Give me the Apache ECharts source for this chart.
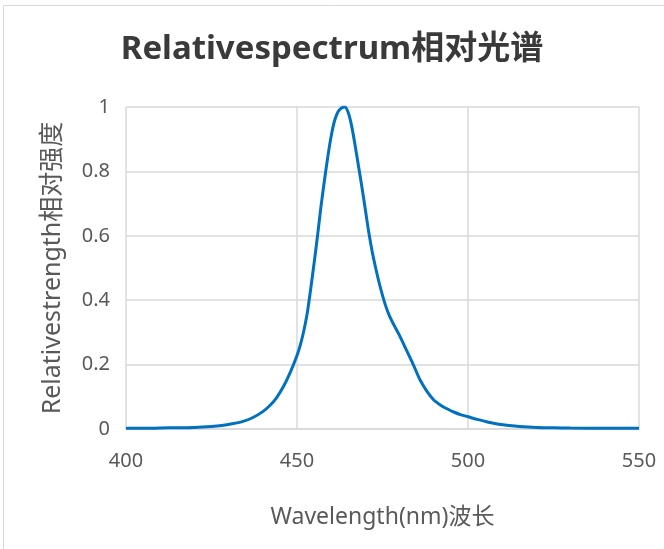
<!DOCTYPE html>
<html><head><meta charset="utf-8">
<script src="https://cdn.jsdelivr.net/npm/echarts@6/dist/echarts.min.js"></script>
<style>html,body{margin:0;padding:0;background:#fff}#c{width:664px;height:549px}</style>
</head><body><div id="c"></div>
<script>
const titleText = 'Relativespectrum相对光谱';
const xName = 'Wavelength(nm)波长';
const yName = 'Relativestrength相对强度';
const wavelengths = [400,405,410,415,420,425,428,431,434,437,440,442,444,446,448,450,451,452,453,454,455,456,457,458,459,460,461,462,463,464,465,466,467,468,469,470,471,472,473,474,475,476,477,478,479,480,482,484,486,488,490,492,494,496,498,500,503,506,509,512,515,520,525,530,540,550];
const intensity = [0.002,0.002,0.003,0.004,0.005,0.008,0.011,0.016,0.023,0.035,0.054,0.072,0.097,0.131,0.175,0.228,0.262,0.305,0.36,0.435,0.515,0.6,0.69,0.77,0.845,0.91,0.958,0.985,0.997,1.0,0.982,0.94,0.88,0.815,0.75,0.68,0.61,0.55,0.5,0.455,0.415,0.38,0.352,0.33,0.31,0.29,0.245,0.2,0.152,0.117,0.09,0.074,0.062,0.052,0.044,0.038,0.029,0.021,0.015,0.011,0.008,0.005,0.004,0.003,0.002,0.002];
const xTicks = {min:400, max:550, step:50};
const yTicks = {min:0, max:1, step:0.2};

const chart = echarts.init(document.getElementById('c'), null, {renderer:'canvas'});
const FONT = '"Noto Sans","Noto Sans CJK SC",sans-serif';
chart.setOption({
  animation:false,
  backgroundColor:'#fff',
  graphic:[{type:'rect',shape:{x:3.5,y:5.5,width:670,height:560},style:{fill:'none',stroke:'#d9d9d9',lineWidth:1},silent:true}],
  title:{text:titleText,left:'center',top:28,textStyle:{fontFamily:FONT,fontSize:33,fontWeight:'bold',color:'#3a3a3a'}},
  grid:{left:126,right:25,top:107,bottom:120},
  xAxis:{type:'value',min:xTicks.min,max:xTicks.max,interval:xTicks.step,
    name:xName,nameLocation:'middle',nameGap:77,
    nameTextStyle:{fontFamily:FONT,fontSize:23,color:'#595959'},
    axisLine:{show:true,lineStyle:{color:'#d9d9d9',width:1.5}},axisTick:{show:false},
    axisLabel:{fontFamily:FONT,fontSize:20,color:'#595959',margin:22},
    splitLine:{show:true,lineStyle:{color:'#d9d9d9',width:1.5}}},
  yAxis:{type:'value',min:yTicks.min,max:yTicks.max,interval:yTicks.step,
    name:yName,nameLocation:'middle',nameGap:61,
    nameTextStyle:{fontFamily:FONT,fontSize:25,color:'#595959'},
    axisLine:{show:false},axisTick:{show:false},
    axisLabel:{fontFamily:FONT,fontSize:20,color:'#595959',margin:16,formatter:v=>String(+v.toFixed(1))},
    splitLine:{show:true,lineStyle:{color:'#d9d9d9',width:1.5}}},
  series:[{type:'line',data:wavelengths.map((w,i)=>[w,intensity[i]]),smooth:0.3,showSymbol:false,
    lineStyle:{color:'#0070C0',width:3}}]
});
</script></body></html>
